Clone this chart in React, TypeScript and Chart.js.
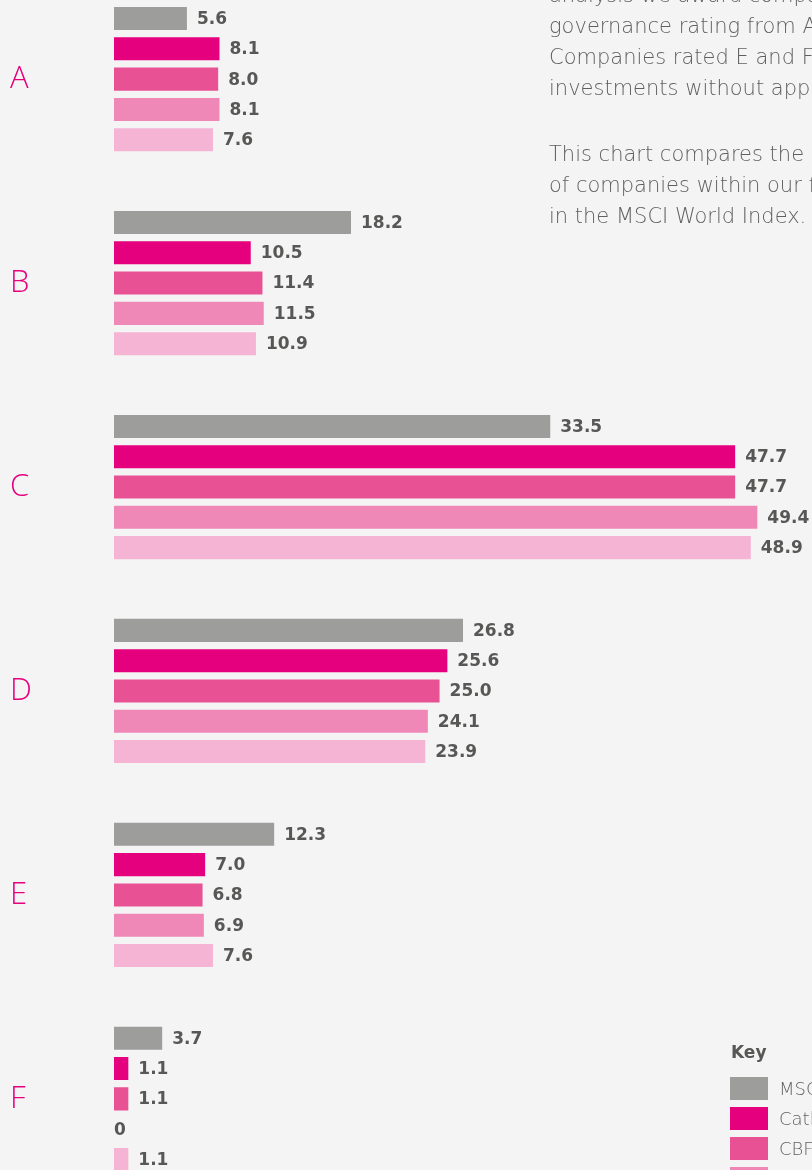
import React, { useEffect, useRef } from "react";
import { Chart, registerables } from "chart.js";

Chart.register(...registerables);

const categories = ["A", "B", "C", "D", "E", "F"];
const seriesNames = [
  "MSCI World Index",
  "Catholic Investment Fund",
  "CBF Church of England Investment Fund",
  "CBF Church of England Global Equity Fund",
  "CCLA Ethical Investment Fund",
];
const msciValues = [5.6, 18.2, 33.5, 26.8, 12.3, 3.7];
const series2Values = [8.1, 10.5, 47.7, 25.6, 7.0, 1.1];
const series3Values = [8.0, 11.4, 47.7, 25.0, 6.8, 1.1];
const series4Values = [8.1, 11.5, 49.4, 24.1, 6.9, 0];
const series5Values = [7.6, 10.9, 48.9, 23.9, 7.6, 1.1];
const seriesColors = ["#9d9d9c", "#e5007d", "#e85295", "#ef88b6", "#f5b4d4"];

const paragraph1 = [
  "analysis we award companies a",
  "governance rating from A to F.",
  "Companies rated E and F are not",
  "investments without approval.",
];
const paragraph2 = [
  "This chart compares the breakdown",
  "of companies within our funds and",
  "in the MSCI World Index.",
];

const valueLabels = {
  id: "valueLabels",
  afterDatasetsDraw(chart: any) {
    const ctx = chart.ctx;
    ctx.save();
    ctx.font = "bold 17px 'DejaVu Sans'";
    ctx.fillStyle = "#575756";
    ctx.textAlign = "left";
    ctx.textBaseline = "middle";
    chart.data.datasets.forEach((ds: any, di: number) => {
      const meta = chart.getDatasetMeta(di);
      meta.data.forEach((bar: any, i: number) => {
        const v = ds.data[i];
        const txt = v === 0 ? "0" : v.toFixed(1);
        const x = v === 0 ? bar.base : bar.x + 10;
        ctx.fillText(txt, x, bar.y + 1);
      });
    });
    ctx.restore();
  },
};

const textStyle: React.CSSProperties = {
  fontFamily: "'DejaVu Sans'",
  fontWeight: 200,
  fontSize: 21,
  lineHeight: "31px",
  color: "#5f5f5e",
  whiteSpace: "nowrap",
};

export default function App() {
  const ref = useRef<HTMLCanvasElement>(null);
  useEffect(() => {
    const all = [msciValues, series2Values, series3Values, series4Values, series5Values];
    const chart = new Chart(ref.current!, {
      type: "bar",
      data: {
        labels: categories,
        datasets: all.map((d, i) => ({
          label: seriesNames[i],
          data: d,
          backgroundColor: seriesColors[i],
          borderWidth: 0,
          categoryPercentage: 0.743,
          barPercentage: 0.76,
        })),
      },
      options: {
        indexAxis: "y",
        responsive: false,
        animation: false,
        layout: { padding: { left: 10, right: 0, top: 0, bottom: 0 } },
        plugins: { legend: { display: false }, tooltip: { enabled: false } },
        scales: {
          x: { display: false, min: 0, max: 53.6 },
          y: {
            grid: { display: false },
            border: { display: false },
            afterFit: (axis: any) => {
              axis.width = 104;
            },
            ticks: {
              crossAlign: "far",
              padding: 0,
              color: "#e5007d",
              font: { family: "'Open Sans'", size: 31, weight: "300", lineHeight: 0.01 },
            },
          },
        },
      },
      plugins: [valueLabels],
    } as any);
    return () => chart.destroy();
  }, []);

  return (
    <div
      style={{
        position: "absolute",
        left: 0,
        top: 0,
        width: 812,
        height: 1170,
        overflow: "hidden",
        background: "#f4f4f4",
      }}
    >
      <canvas
        ref={ref}
        width={812}
        height={1224}
        style={{ position: "absolute", left: 0, top: -23, width: 812, height: 1224 }}
      />
      <div style={{ position: "absolute", left: 549, top: -20, ...textStyle }}>
        {paragraph1.map((l, i) => (
          <div key={i} style={{ height: 31 }}>
            {l}
          </div>
        ))}
        <div style={{ height: 35 }} />
        {paragraph2.map((l, i) => (
          <div key={"b" + i} style={{ height: 31 }}>
            {l}
          </div>
        ))}
      </div>
      <div
        style={{
          position: "absolute",
          left: 731,
          top: 1042,
          fontFamily: "'DejaVu Sans'",
          fontWeight: 700,
          fontSize: 17,
          color: "#575756",
          whiteSpace: "nowrap",
        }}
      >
        Key
      </div>
      {seriesNames.map((n, i) => (
        <div
          key={n}
          style={{
            position: "absolute",
            left: 730,
            top: 1077 + i * 30,
            height: 23,
            display: "flex",
            alignItems: "center",
            whiteSpace: "nowrap",
          }}
        >
          <div style={{ width: 38, height: 23, background: seriesColors[i] }} />
          <span
            style={{
              marginLeft: 11,
              fontFamily: "'DejaVu Sans'",
              fontWeight: 200,
              fontSize: 18,
              color: "#5f5f5e",
            }}
          >
            {n}
          </span>
        </div>
      ))}
    </div>
  );
}
